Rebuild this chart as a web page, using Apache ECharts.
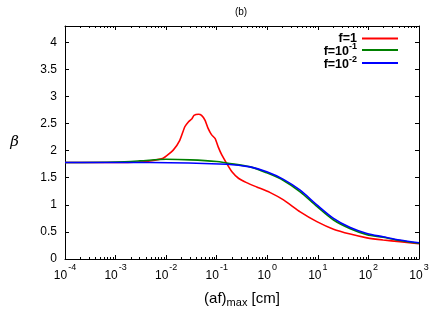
<!DOCTYPE html>
<html>
<head>
<meta charset="utf-8">
<script src="https://cdn.jsdelivr.net/npm/echarts@6/dist/echarts.min.js"></script>
<style>html,body{margin:0;padding:0;background:#fff}#c{width:436px;height:327px}</style>
</head>
<body>
<div id="c"></div>
<script>
// x values: (af)_max [cm]
var redX = [1e-4, 1e-3, 0.003, 0.00479, 0.00871, 0.0138, 0.0186, 0.0234, 0.0275, 0.0324, 0.0355, 0.0437, 0.0501, 0.0589, 0.0676, 0.0794, 0.0933, 0.107, 0.126, 0.158, 0.200, 0.269, 0.389, 0.617, 1.12, 2.09, 4.47, 9.55, 20.4, 43.7, 93.3, 195, 417, 1000];
var redY = [1.78, 1.78, 1.79, 1.81, 1.86, 2.01, 2.19, 2.44, 2.53, 2.59, 2.65, 2.67, 2.65, 2.56, 2.41, 2.29, 2.22, 2.07, 1.92, 1.76, 1.61, 1.49, 1.41, 1.33, 1.23, 1.09, 0.87, 0.69, 0.55, 0.46, 0.39, 0.35, 0.32, 0.28];

var greenX = [1e-4, 1e-3, 0.003, 0.01, 0.03, 0.1, 0.158, 0.457, 0.977, 2.09, 4.47, 9.55, 20.4, 43.7, 93.3, 195, 417, 1000];
var greenY = [1.78, 1.79, 1.81, 1.84, 1.83, 1.80, 1.77, 1.70, 1.59, 1.45, 1.24, 0.97, 0.72, 0.56, 0.45, 0.40, 0.34, 0.29];

var blueX = [1e-4, 1e-3, 0.00479, 0.158, 0.457, 0.977, 2.09, 4.47, 9.55, 20.4, 43.7, 93.3, 195, 417, 1000];
var blueY = [1.78, 1.78, 1.78, 1.75, 1.70, 1.61, 1.47, 1.27, 1.00, 0.75, 0.58, 0.47, 0.41, 0.35, 0.30];

var seriesNames = ['f=1', 'f=10^-1', 'f=10^-2'];
var seriesColors = ['#ff0000', '#008000', '#0000ff'];

var xMajorTicks = [1e-4, 1e-3, 1e-2, 1e-1, 1, 10, 100, 1000];
var yTicks = [0, 0.5, 1, 1.5, 2, 2.5, 3, 3.5, 4];

var xMinorTicks = [];
for (var k = 0; k < xMajorTicks.length - 1; k++) {
  for (var m = 2; m <= 9; m++) xMinorTicks.push(+(m * xMajorTicks[k]).toPrecision(3));
}

function zip(xs, ys) { return xs.map(function (x, i) { return [x, ys[i]]; }); }

var FONT = 'Liberation Sans';
function expLabel(v) {
  var e = Math.round(Math.log(v) / Math.LN10);
  return '{b|10}{s|' + e + '}';
}
var supRich = {
  b: { fontFamily: FONT, fontSize: 12, color: '#000', verticalAlign: 'bottom' },
  s: { fontFamily: FONT, fontSize: 9, color: '#000', verticalAlign: 'top', padding: [0, 0, 10, 1] }
};

function xAxisBase(pos, ticks, len, showLine, showLabel) {
  return {
    type: 'log', logBase: 10, min: 1e-4, max: 1000, position: pos, gridIndex: 0,
    axisLine: { show: showLine, lineStyle: { color: '#000', width: 1 } },
    axisTick: { show: true, inside: true, length: len, customValues: ticks, lineStyle: { color: '#000', width: 1 } },
    axisLabel: { show: showLabel, customValues: ticks, formatter: expLabel, rich: supRich, margin: 4 },
    splitLine: { show: false }, minorTick: { show: false }
  };
}

var xAxes = [
  xAxisBase('bottom', xMajorTicks, 4, true, true),
  xAxisBase('bottom', xMinorTicks, 2, false, false),
  xAxisBase('top', xMajorTicks, 4, true, false),
  xAxisBase('top', xMinorTicks, 2, false, false)
];
xAxes[0].name = '(af){sub|max} [cm]';
xAxes[0].nameLocation = 'middle';
xAxes[0].nameGap = 30;
xAxes[0].nameTextStyle = {
  fontFamily: FONT, fontSize: 15, color: '#000',
  rich: { sub: { fontFamily: FONT, fontSize: 11, color: '#000', verticalAlign: 'bottom', padding: [8, 0, 0, 0] } }
};

function yAxisBase(pos, showLabel) {
  return {
    type: 'value', min: 0, max: 4.3, position: pos,
    axisLine: { show: true, lineStyle: { color: '#000', width: 1 } },
    axisTick: { show: true, inside: true, length: 4, customValues: yTicks, lineStyle: { color: '#000' } },
    axisLabel: { show: showLabel, customValues: yTicks, fontFamily: FONT, fontSize: 12, color: '#000', margin: 8 },
    splitLine: { show: false }
  };
}
var yAxes = [yAxisBase('left', true), yAxisBase('right', false)];
yAxes[0].name = 'β';
yAxes[0].nameLocation = 'middle';
yAxes[0].nameRotate = 0;
yAxes[0].nameGap = 46;
yAxes[0].nameTextStyle = { fontFamily: 'DejaVu Serif', fontStyle: 'italic', fontSize: 15, color: '#000', padding: [0, 0, 8, 0] };

var datasets = [zip(redX, redY), zip(greenX, greenY), zip(blueX, blueY)];
var series = datasets.map(function (d, i) {
  return {
    name: seriesNames[i], type: 'line', data: d, xAxisIndex: 0, yAxisIndex: 0,
    showSymbol: false, symbol: 'none', smooth: i === 0 ? 0.15 : 0.3,
    lineStyle: { color: seriesColors[i], width: 1.6 }, itemStyle: { color: seriesColors[i] },
    animation: false
  };
});

var chart = echarts.init(document.getElementById('c'), null, { renderer: 'canvas' });
chart.setOption({
  animation: false,
  backgroundColor: '#fff',
  title: { text: '(b)', left: 236, top: 2, textAlign: 'center',
    textStyle: { fontFamily: FONT, fontSize: 10, fontWeight: 'normal', color: '#000' } },
  grid: { left: 65, right: 17, top: 26, bottom: 68, containLabel: false },
  legend: {
    orient: 'vertical', right: 33, top: 27, align: 'right', icon: 'rect',
    itemWidth: 36, itemHeight: 2, itemGap: -3,
    data: seriesNames,
    formatter: function (n) {
      var p = n.split('^');
      return p.length > 1 ? '{b|' + p[0] + '}{s|' + p[1] + '}' : '{b|' + n + '}';
    },
    textStyle: {
      rich: {
        b: { fontFamily: FONT, fontSize: 12.5, fontWeight: 'bold', color: '#000', verticalAlign: 'bottom' },
        s: { fontFamily: FONT, fontSize: 9, fontWeight: 'bold', color: '#000', verticalAlign: 'top', padding: [0, 0, 7, 0] }
      }
    }
  },
  xAxis: xAxes,
  yAxis: yAxes,
  series: series
});
</script>
</body>
</html>
